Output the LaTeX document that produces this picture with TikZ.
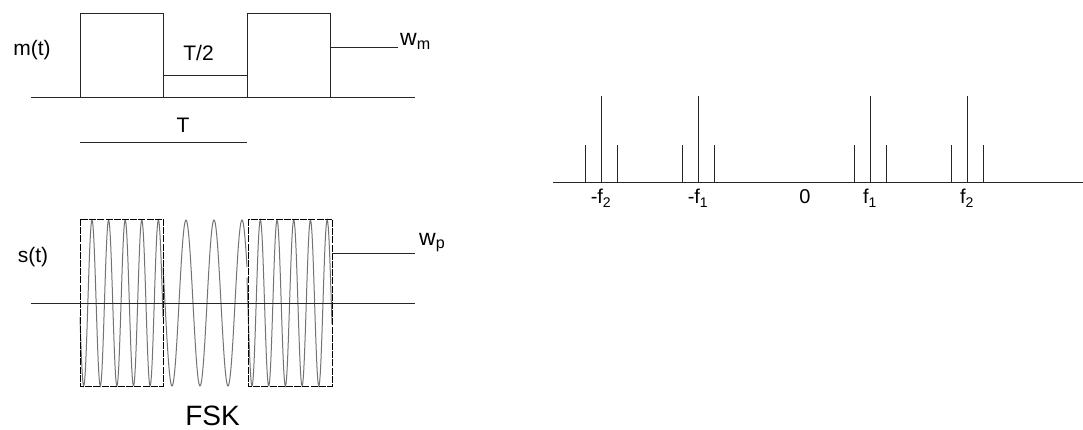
\documentclass[tikz,border=0pt]{standalone}
\usepackage{fontspec}
\setmainfont{Liberation Sans}
\begin{document}
\begin{tikzpicture}[x=1pt,y=-1pt,
  ln/.style={line width=1pt, black!85},
  lbl/.style={inner sep=0pt, font=\fontsize{21}{23}\selectfont},
  wlbl/.style={inner sep=0pt, font=\fontsize{23}{25}\selectfont},
  flbl/.style={inner sep=0pt, font=\fontsize{20}{22}\selectfont},
  wave/.style={line width=1pt, black!55},
  dbox/.style={line width=0.9pt, black, dash pattern=on 7pt off 1.2pt}]
\useasboundingbox (0,0) rectangle (1083,430);
% ---- m(t)
\draw[ln] (31,98) -- (415,98);
\draw[ln] (80,98) -- (80,14) -- (163,14) -- (163,98);
\draw[ln] (163,76) -- (247,76);
\draw[ln] (247,98) -- (247,14) -- (330,14) -- (330,98);
\coordinate (wmA) at (330,48);
\coordinate (wmB) at (398,48);
\draw[ln] (wmA) -- (wmB);
\node[wlbl, anchor=base west] (wm) at (400,46) {w\textsubscript{m}};
\node[lbl] (mt) at (32,50) {m(t)};
\node[lbl] (thalf) at (198.5,52.5) {T/2};
\node[lbl] (tt) at (183,125) {T};
\draw[ln] (80,143) -- (247,143);
% ---- s(t)
\draw[wave] plot[domain=80:163, samples=160] (\x, {303+83*cos((\x-83.7)*21.687)});
\draw[wave] plot[domain=163:247, samples=120] (\x, {303+83*cos((\x-172)*12.857)});
\draw[wave] plot[domain=247:332, samples=160] (\x, {303+83*cos((\x-252)*21.557)});
\draw[dbox] (80,219) rectangle (163,386);
\draw[dbox] (248,219) rectangle (332,386);
\draw[ln] (31,303) -- (415,303);
\coordinate (wpA) at (332,253);
\coordinate (wpB) at (415,253);
\draw[ln] (wpA) -- (wpB);
\node[wlbl, anchor=base west] (wp) at (419,245) {w\textsubscript{p}};
\node[lbl] (st) at (33,257) {s(t)};
\node[inner sep=0pt, font=\fontsize{28}{30}\selectfont, anchor=base] (fsk) at (212.5,425) {FSK};
% ---- spectrum
\draw[ln] (553,183) -- (1083,183);
\foreach \c/\l/\nm in {601/{-f\textsubscript{2}}/mf2, 698/{-f\textsubscript{1}}/mf1, 870/{f\textsubscript{1}}/pf1, 967/{f\textsubscript{2}}/pf2}{
  \draw[ln] (\c,183) -- (\c,96);
  \draw[ln] (\c-15.5,183) -- (\c-15.5,145);
  \draw[ln] (\c+16,183) -- (\c+16,145);
  \node[flbl, anchor=base] (\nm) at (\c,204) {\l};
}
\node[flbl, anchor=base] (zero) at (805,204) {0};
\end{tikzpicture}
\end{document}
